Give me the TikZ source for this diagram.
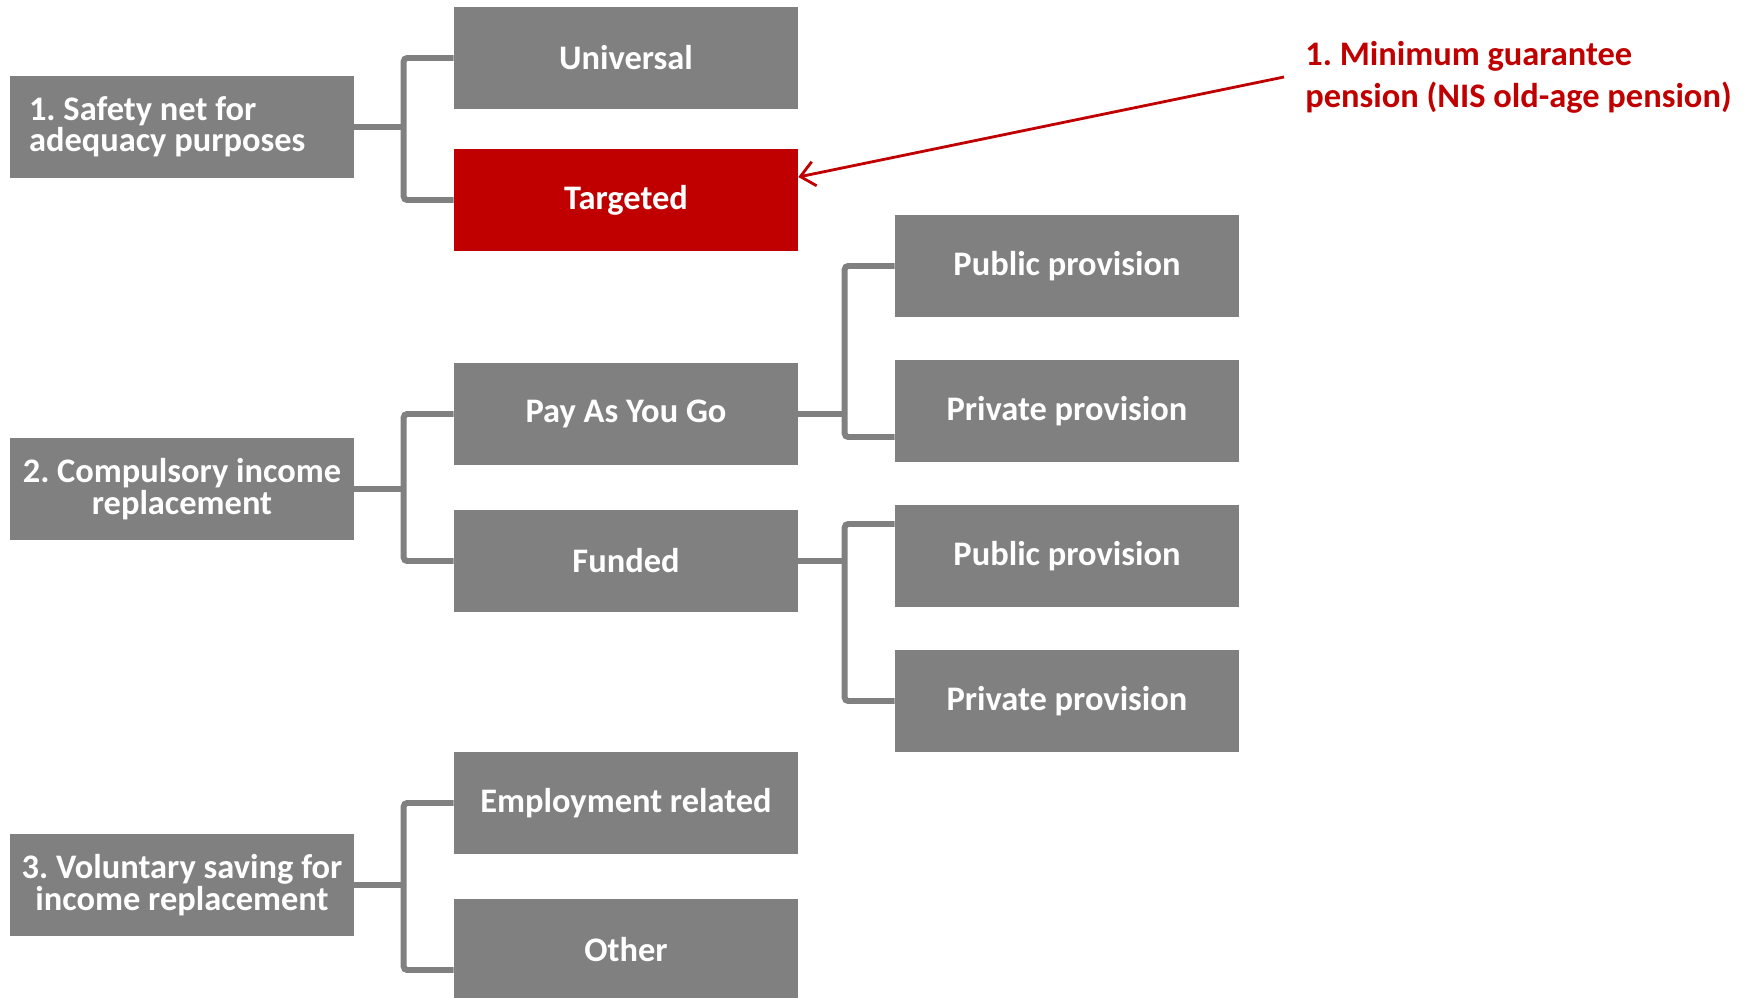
\documentclass[tikz,border=0pt]{standalone}
\usepackage{fontspec}
\setmainfont{Carlito}
\usetikzlibrary{arrows.meta}
\definecolor{boxgray}{HTML}{808080}
\definecolor{hotred}{HTML}{C00000}
\tikzset{
  box/.style={fill=boxgray,text=white,minimum width=6.88cm,minimum height=2.04cm,
    inner sep=0pt,align=center,font=\bfseries\fontsize{19.6}{16.5}\selectfont\frenchspacing},
  hotbox/.style={box,fill=hotred},
  conn/.style={draw=boxgray,line width=3.4pt,rounded corners=2pt},
  notearrow/.style={draw=hotred,line width=1.6pt,-{Straight Barb[length=8pt,width=14pt]}},
}
% parent, upper child, lower child, shift of upper and lower branch
\newcommand{\fork}[5]{
\coordinate (#2f) at ([xshift=-1cm]#2.west);
\draw[conn] (#1.east) -- (#1.east -| #2f);
\draw[conn] ([yshift=#4]#2.west) -- ([yshift=#4]#2f) |- ([yshift=#5]#3.west);
}

\begin{document}
\begin{tikzpicture}[x=0.02cm,y=-0.02cm]
\useasboundingbox (0,0) rectangle (1750,997);
\node[box,text width=6.12cm,align=left,inner xsep=0.38cm,
  execute at begin node={\spaceskip=0pt\xspaceskip=0pt}] (n1) at (182,127) {1. Safety net for\\adequacy purposes};
\node[box] (n11) at (626,58) {Universal};
\node[hotbox] (n12) at (626,200) {Targeted};
\node[box] (n2) at (182,489) {2. Compulsory income\\replacement};
\node[box] (n21) at (626,414) {Pay As You Go};
\node[box] (n22) at (626,561) {Funded};
\node[box] (n211) at (1067,266) {Public provision};
\node[box] (n212) at (1067,411) {Private provision};
\node[box] (n221) at (1067,556) {Public provision};
\node[box] (n222) at (1067,701) {Private provision};
\node[box] (n3) at (182,885) {3. Voluntary saving for\\income replacement};
\node[box] (n31) at (626,803) {Employment related};
\node[box] (n32) at (626,950) {Other};
\fork{n1}{n11}{n12}{0cm}{0cm}
\fork{n2}{n21}{n22}{0cm}{0cm}
\fork{n21}{n211}{n212}{0cm}{-0.52cm}
\fork{n22}{n221}{n222}{0.64cm}{0cm}
\fork{n3}{n31}{n32}{0cm}{-0.4cm}
\node[anchor=west,inner xsep=0.42cm,inner ysep=0pt,align=left,text=hotred,
  font=\bfseries\fontsize{19.6}{23.8}\selectfont\frenchspacing] (note) at (1284,77)
  {1. Minimum guarantee\\pension (NIS old-age pension)};
\draw[notearrow] (note.west) -- ([yshift=0.46cm]n12.east);
\end{tikzpicture}
\end{document}
